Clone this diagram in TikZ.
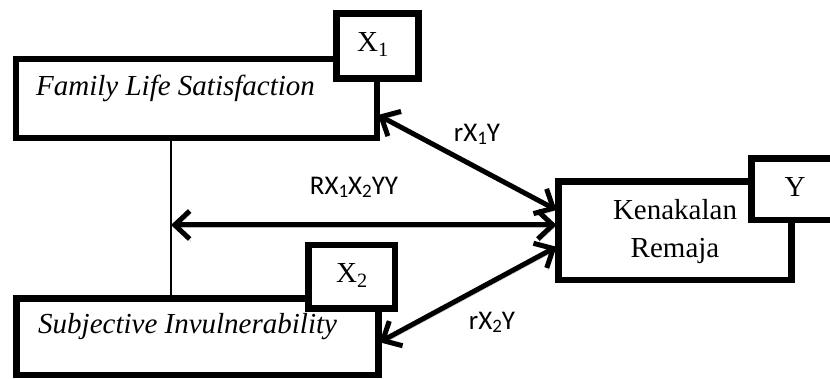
\documentclass[tikz,border=0pt]{standalone}
\usepackage{fontspec}
\setmainfont{Liberation Serif}
\newfontfamily\labelfont{Carlito}
\usetikzlibrary{arrows.meta}
% subscript used in the correlation labels
\newcommand\lsub[1]{\raisebox{-2.2pt}{\fontsize{19}{22}\selectfont #1}}
\begin{document}
\begin{tikzpicture}[x=1pt,y=-1pt,
  box/.style={draw, line width=6.5pt, fill=white, inner sep=0pt, outer sep=0pt},
  boxtext/.style={font=\fontsize{29}{35}\selectfont, inner sep=0pt},
  reltext/.style={font=\labelfont\fontsize{27}{32}\selectfont, inner sep=0pt, anchor=base},
  rel/.style={line width=5pt, {Straight Barb[length=15pt,width=28pt]}-{Straight Barb[length=15pt,width=28pt]},
    preaction={draw=gray!55, transform canvas={shift={(1.5pt,-2.5pt)}}}},
  link/.style={line width=1.8pt}]
\useasboundingbox (0,0) rectangle (830,379);

% variable boxes
\node[box, minimum width=361pt, minimum height=79pt] (famBox) at (196.5,98.5) {};
\node[box, minimum width=82pt, minimum height=65pt] (xoneBox) at (377.5,46) {};
\node[box, minimum width=362pt, minimum height=76.5pt] (subjBox) at (197.5,336.75) {};
\node[box, minimum width=86.5pt, minimum height=63.5pt] (xtwoBox) at (351.75,276.75) {};
\node[box, minimum width=233pt, minimum height=98.5pt] (kenBox) at (675,230.75) {};
\node[box, minimum width=82pt, minimum height=61.5pt] (yBox) at (792.5,189.25) {};

% box labels
\node[boxtext, anchor=base west] (famText) at (36,96) {\itshape Family Life Satisfaction};
\node[boxtext, anchor=base west] (subjText) at (38,334) {\itshape Subjective Invulnerability};
\node[boxtext, anchor=base] (xoneText) at (373,52) {X\textsubscript{1}};
\node[boxtext, anchor=base] (xtwoText) at (352,283) {X\textsubscript{2}};
\node[boxtext, anchor=base] (yText) at (795,197) {Y};
\node[boxtext, anchor=base] (kenTextA) at (675,220) {Kenakalan};
\node[boxtext, anchor=base] (kenTextB) at (675,258) {Remaja};

% joint link between the two predictors
\coordinate (vtop) at (171,141);
\coordinate (vbot) at (171,295);
\coordinate (hstart) at (171,225);
\draw[link] (vtop) -- (vbot);

% correlation arrows
\draw[rel] ([xshift=1pt,yshift=-16.5pt]famBox.east) -- ([xshift=-2pt,yshift=20.75pt]kenBox.west);
\draw[rel] (hstart) -- ([xshift=-2pt,yshift=5.75pt]kenBox.west);
\draw[rel] ([xshift=-2pt,yshift=-16pt]kenBox.west) -- ([xshift=1pt,yshift=-5.5pt]subjBox.east);

% arrow labels
\node[reltext] (rOne) at (477,142) {rX\lsub{1}Y};
\node[reltext] (rAll) at (354,195) {RX\lsub{1}X\lsub{2}YY};
\node[reltext] (rTwo) at (492,330) {rX\lsub{2}Y};
\end{tikzpicture}
\end{document}
